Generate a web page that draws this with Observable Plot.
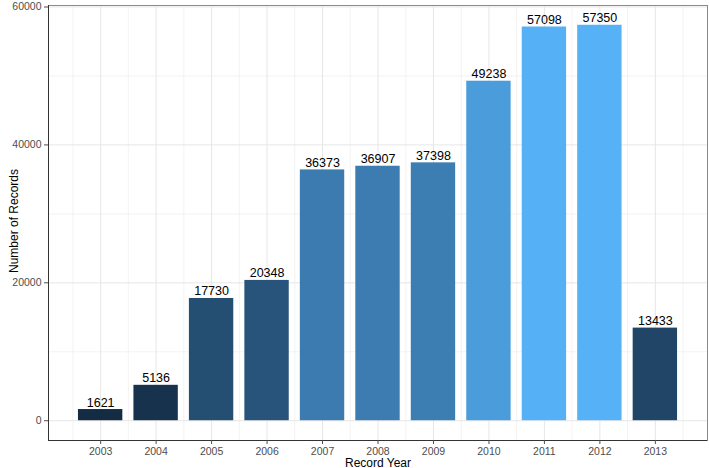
<!DOCTYPE html>
<html><head><meta charset="utf-8">
<script src="https://cdn.jsdelivr.net/npm/d3@7"></script>
<script src="https://cdn.jsdelivr.net/npm/@observablehq/plot@0.6"></script>
<style>body{margin:0;background:#fff;font-family:"Liberation Sans",Arial,sans-serif}</style>
</head><body><div id="chart"></div>
<script>
const years = [2003, 2004, 2005, 2006, 2007, 2008, 2009, 2010, 2011, 2012, 2013];
const records = [1621, 5136, 17730, 20348, 36373, 36907, 37398, 49238, 57098, 57350, 13433];
const yTicks = [0, 20000, 40000, 60000];
const yMinor = [10000, 30000, 50000];
const xMinor = [2002.5, 2003.5, 2004.5, 2005.5, 2006.5, 2007.5, 2008.5, 2009.5, 2010.5, 2011.5, 2012.5, 2013.5];
const xTitle = "Record Year";
const yTitle = "Number of Records";

const rows = years.map((y, i) => ({year: y, n: records[i]}));
const xLo = 2002.6, xHi = 2013.4, xPad = (xHi - xLo) * 0.05;
const yMax = d3.max(records), yPad = yMax * 0.05;
const xDom = [xLo - xPad, xHi + xPad];
const yDom = [-yPad, yMax + yPad];

const chart = Plot.plot({
  width: 709, height: 468,
  marginLeft: 48, marginRight: 2, marginTop: 5, marginBottom: 28,
  style: {fontFamily: "Liberation Sans, Arial, sans-serif", background: "white"},
  x: {type: "linear", domain: xDom, axis: null},
  y: {domain: yDom, axis: null},
  color: {type: "linear", domain: [d3.min(records), yMax], range: ["#132B43", "#56B1F7"], interpolate: "lab"},
  marks: [
    Plot.gridY(yMinor, {stroke: "#EBEBEB", strokeOpacity: 1, strokeWidth: 0.6}),
    Plot.gridX(xMinor, {stroke: "#EBEBEB", strokeOpacity: 1, strokeWidth: 0.6}),
    Plot.gridY(yTicks, {stroke: "#E6E6E6", strokeOpacity: 1, strokeWidth: 1}),
    Plot.gridX(years, {stroke: "#E6E6E6", strokeOpacity: 1, strokeWidth: 1}),
    Plot.rectY(rows, {x1: d => d.year - 0.4, x2: d => d.year + 0.4, y1: 0, y2: "n", fill: "n"}),
    Plot.text(rows, {x: "year", y: "n", text: d => String(d.n), lineAnchor: "bottom", dy: -3, fontSize: 12.5, fill: "black"}),
    Plot.frame({stroke: "#8a8a8a"}),
    Plot.ruleX([xDom[0]], {stroke: "#333"}),
    Plot.ruleY([yDom[0]], {stroke: "#333"}),
    Plot.axisY(yTicks, {tickSize: 4, tickPadding: 3, fontSize: 10.5, color: "#4D4D4D", tickFormat: d => String(d), label: null}),
    Plot.axisX(years, {tickSize: 4, tickPadding: 3, fontSize: 10.5, color: "#4D4D4D", tickFormat: d => String(d), label: null}),
    Plot.text([yTitle], {frameAnchor: "left", textAnchor: "middle", lineAnchor: "middle", dx: -34, dy: -2, rotate: -90, fontSize: 12, fill: "black"}),
    Plot.text([xTitle], {frameAnchor: "bottom", textAnchor: "middle", lineAnchor: "bottom", dy: 26, dx: 0, fontSize: 12, fill: "black"})
  ]
});
document.getElementById("chart").appendChild(chart);
</script>
</body></html>
